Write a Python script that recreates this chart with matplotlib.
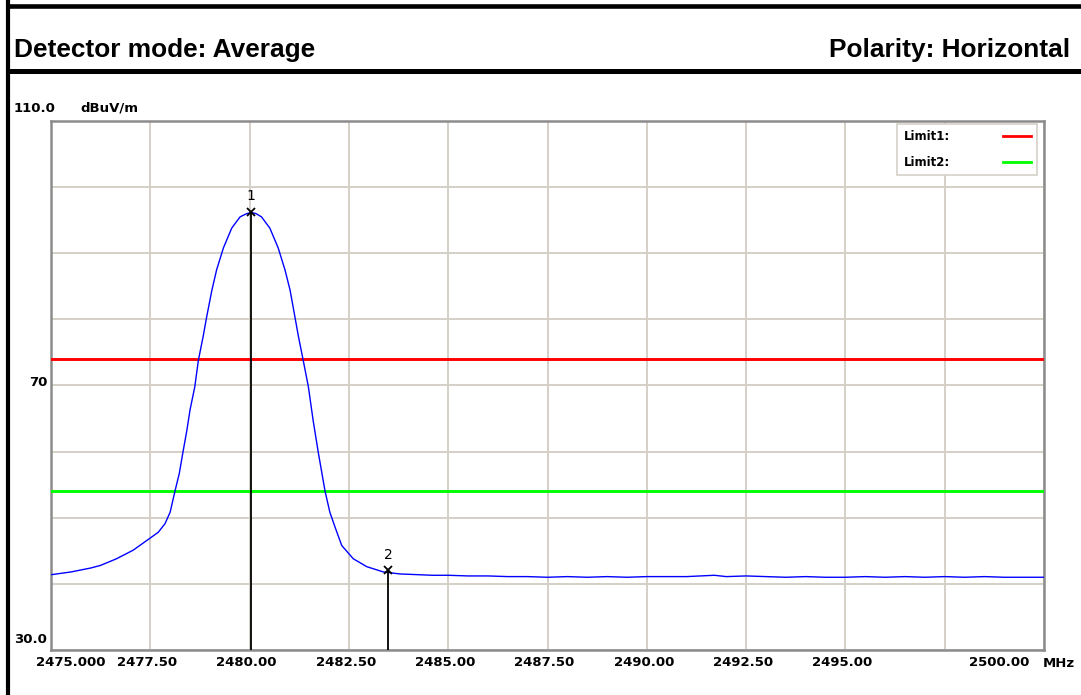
import matplotlib
matplotlib.use("Agg")
import matplotlib.pyplot as plt
from matplotlib.lines import Line2D
from matplotlib.transforms import offset_copy, ScaledTranslation

# trace (MHz, dBuV/m)
freq = [2475.02, 2475.5, 2476.0, 2476.25, 2476.65, 2477.07, 2477.49, 2477.70,
        2477.87, 2478.0, 2478.12, 2478.23, 2478.32, 2478.42, 2478.50, 2478.62,
        2478.71, 2478.83, 2478.92, 2479.05, 2479.17, 2479.34, 2479.55, 2479.76,
        2479.93, 2480.04, 2480.16, 2480.30, 2480.51, 2480.72, 2480.89, 2481.02,
        2481.14, 2481.23, 2481.35, 2481.48, 2481.60, 2481.73, 2481.90, 2482.02,
        2482.15, 2482.32, 2482.61, 2482.95, 2483.37, 2483.79, 2484.2, 2484.6,
        2485.0, 2485.5, 2486.0, 2486.5, 2487.0, 2487.5, 2488.0, 2488.5,
        2489.0, 2489.5, 2490.0, 2490.5, 2491.0, 2491.7, 2492.0, 2492.5,
        2493.0, 2493.5, 2494.0, 2494.5, 2495.0, 2495.5, 2496.0, 2496.5,
        2497.0, 2497.5, 2498.0, 2498.5, 2499.0, 2499.5, 2500.0]
level = [41.4, 41.8, 42.4, 42.8, 43.8, 45.1, 46.9, 47.8,
         49.1, 50.85, 54.0, 56.7, 59.85, 63.2, 66.3, 69.8,
         73.8, 77.4, 80.4, 84.4, 87.5, 90.8, 93.8, 95.5,
         96.0, 96.15, 96.0, 95.5, 93.8, 90.8, 87.5, 84.4,
         80.4, 77.4, 73.8, 69.8, 64.7, 59.85, 54.0, 50.85,
         48.6, 45.8, 43.8, 42.6, 41.8, 41.5, 41.4, 41.3,
         41.3, 41.2, 41.2, 41.1, 41.1, 41.0, 41.1, 41.0,
         41.1, 41.0, 41.1, 41.1, 41.1, 41.3, 41.1, 41.2,
         41.1, 41.0, 41.1, 41.0, 41.0, 41.1, 41.0, 41.1,
         41.0, 41.1, 41.0, 41.1, 41.0, 41.0, 41.0]

limit1 = 74.0
limit2 = 54.0

marker_freq = [2480.04, 2483.49]
marker_level = [96.3, 42.1]
marker_ids = ["1", "2"]

xticks = [2475.0, 2477.5, 2480.0, 2482.5, 2485.0, 2487.5, 2490.0, 2492.5,
          2495.0, 2497.5, 2500.0]
xtick_labels = ["2475.000", "2477.50", "2480.00", "2482.50", "2485.00",
                "2487.50", "2490.00", "2492.50", "2495.00", "", "2500.00"]
yticks = [30, 40, 50, 60, 70, 80, 90, 100, 110]

W, H = 1081, 695
fig = plt.figure(figsize=(W / 100, H / 100), dpi=100)

# page furniture in pixel coords
bg = fig.add_axes([0, 0, 1, 1])
bg.set_xlim(0, W)
bg.set_ylim(H, 0)
bg.axis("off")
bg.plot([6, W], [6, 6], color="black", lw=3.3, solid_capstyle="butt")
bg.plot([6, W], [70.8, 70.8], color="black", lw=3.6, solid_capstyle="butt")
bg.plot([8.2, 8.2], [0, H], color="black", lw=3.0, solid_capstyle="butt")
bg.text(14, 57, "Detector mode: Average", family="Liberation Sans",
        fontweight="bold", fontsize=18.9, va="baseline", ha="left")
bg.text(1070, 57, "Polarity: Horizontal", family="Liberation Sans",
        fontweight="bold", fontsize=18.9, va="baseline", ha="right")

ax = fig.add_axes([51 / W, 45 / H, 993 / W, 529 / H])
ax.set_xlim(2475, 2500)
ax.set_ylim(30, 110)
ax.set_xticks(xticks)
ax.set_xticklabels(xtick_labels, family="DejaVu Sans", fontweight="bold",
                   fontsize=9.5)
ax.set_yticks(yticks)
ax.set_yticklabels([])
ax.tick_params(length=0, pad=4.5)
ax.grid(True, color="#d4d0c8", lw=1.4)
ax.set_axisbelow(True)
for s in ax.spines.values():
    s.set_color("#8c8c8c")
    s.set_linewidth(1.8)

# nudge tick labels the way the analyser software lays them out
shifts = [19.6, -3, -3, -3, -3, -3, -3, -3, -3, 0, -45]
for lab, dx in zip(ax.get_xticklabels(), shifts):
    lab.set_transform(lab.get_transform() + ScaledTranslation(dx / 100, 0, fig.dpi_scale_trans))

tfont = dict(family="DejaVu Sans", fontweight="bold", fontsize=9.5)
ax.text(2475, 110, "110.0", transform=offset_copy(ax.transData, fig, x=4, y=9, units="dots"),
        ha="right", va="baseline", **tfont)
ax.text(2475, 110, "dBuV/m", transform=offset_copy(ax.transData, fig, x=29, y=9, units="dots"),
        ha="left", va="baseline", **tfont)
ax.text(2475, 70, "70", transform=offset_copy(ax.transData, fig, x=-4, y=-1, units="dots"),
        ha="right", va="baseline", **tfont)
ax.text(2475, 30, "30.0", transform=offset_copy(ax.transData, fig, x=-4.5, y=7, units="dots"),
        ha="right", va="baseline", **tfont)
ax.text(2500, 30, "MHz", transform=offset_copy(ax.transData, fig, x=-1, y=-17, units="dots"),
        ha="left", va="baseline", clip_on=False, **tfont)

ax.axhline(limit1, color="#ff0000", lw=2.1, zorder=3)
ax.axhline(limit2, color="#00ff00", lw=2.1, zorder=3)

ax.plot(freq, level, color="#0000ff", lw=1.0, zorder=4)

ax.vlines(marker_freq, 30, marker_level, color="black", lw=1.3, zorder=5)
ax.plot(marker_freq, marker_level, "x", color="black", ms=5.5, mew=1.3, zorder=6)
for f, v, m in zip(marker_freq, marker_level, marker_ids):
    ax.annotate(m, (f, v), xytext=(0, 11), textcoords="offset points",
                ha="center", va="center", family="DejaVu Sans", fontsize=10, zorder=6)

handles = [Line2D([], [], color="#ff0000", lw=2.0),
           Line2D([], [], color="#00ff00", lw=2.0)]
leg = ax.legend(handles, ["Limit1:", "Limit2:"], loc="upper right",
                bbox_to_anchor=(0.9926, 0.9943), borderaxespad=0,
                markerfirst=False, fancybox=False, framealpha=1,
                edgecolor="#d4d0c8", borderpad=0.5, handlelength=2.37,
                handletextpad=4.5, labelspacing=1.1,
                prop=dict(family="DejaVu Sans", weight="bold", size=8.5))
leg.get_frame().set_linewidth(1.2)

fig.savefig("out.png", dpi=100)
